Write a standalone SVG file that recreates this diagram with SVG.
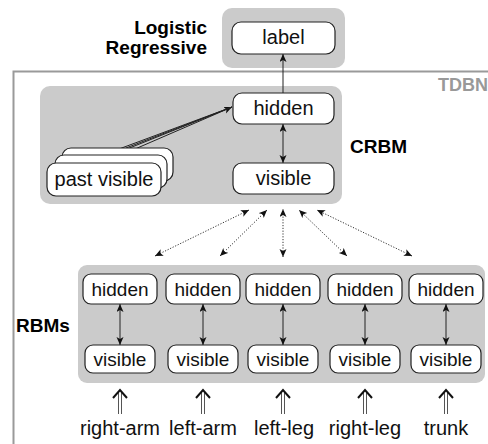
<svg xmlns="http://www.w3.org/2000/svg" width="488" height="444" viewBox="0 0 488 444">
  <defs>
    <marker id="head" markerUnits="userSpaceOnUse" markerWidth="10" markerHeight="8" refX="8" refY="3.5" orient="auto-start-reverse">
      <path d="M0,0 L8,3.5 L0,7 L2,3.5 z" fill="#111"/>
    </marker>
    <style>
      .panel { fill: #cbcbcb; }
      .node { fill: #fff; stroke: #222; stroke-width: 1.2; }
      .t { font-family: "Liberation Sans", Arial, sans-serif; font-size: 19px; fill: #111; text-anchor: middle; }
      .big { font-size: 20px; }
      .lbl { font-family: "Liberation Sans", Arial, sans-serif; font-weight: bold; font-size: 19px; fill: #000; }
      .frame { fill: none; stroke: #9a9a9a; stroke-width: 2; }
      .edge { stroke: #222; stroke-width: 1; fill: none; }
      .dot { stroke: #333; stroke-width: 1; fill: none; stroke-dasharray: 1.2 1.6; }
      .shaft { stroke: #555; stroke-width: 1; fill: none; }
      .chev { stroke: #111; stroke-width: 2; fill: none; stroke-linejoin: miter; }
    </style>
  </defs>

  <!-- TDBN frame -->
  <rect class="frame" x="13.5" y="71.5" width="520" height="420"/>
  <text class="lbl" x="488" y="91" text-anchor="end" style="fill:#999;font-size:18px">TDBN</text>

  <!-- panels -->
  <rect class="panel" x="222" y="8" width="123" height="60" rx="10"/>
  <rect class="panel" x="40" y="86" width="302" height="118" rx="10"/>
  <rect class="panel" x="78" y="265" width="407" height="118" rx="9"/>

  <!-- layer labels -->
  <text class="lbl" x="207" y="34" text-anchor="end">Logistic</text>
  <text class="lbl" x="207" y="54" text-anchor="end">Regressive</text>
  <text class="lbl" x="350" y="153">CRBM</text>
  <text class="lbl" x="16" y="332">RBMs</text>

  <!-- connectors -->
  <g id="connectors">
    <line class="edge" x1="283" y1="93" x2="283" y2="54" marker-end="url(#head)"/>
    <line class="edge" x1="283" y1="124" x2="283" y2="163" marker-start="url(#head)" marker-end="url(#head)"/>
    <line class="edge" x1="105" y1="162" x2="232" y2="107" marker-end="url(#head)"/>
    <line class="edge" x1="112" y1="155" x2="232" y2="107"/>
    <line class="edge" x1="119" y1="149" x2="232" y2="107"/>
    <line class="edge" x1="126" y1="148" x2="232" y2="107"/>

    <line class="dot" x1="155" y1="256" x2="249" y2="210" marker-start="url(#head)" marker-end="url(#head)"/>
    <line class="dot" x1="220" y1="256" x2="267" y2="210" marker-start="url(#head)" marker-end="url(#head)"/>
    <line class="dot" x1="283" y1="257" x2="283" y2="209" marker-start="url(#head)" marker-end="url(#head)"/>
    <line class="dot" x1="347" y1="256" x2="299" y2="210" marker-start="url(#head)" marker-end="url(#head)"/>
    <line class="dot" x1="412" y1="256" x2="317" y2="210" marker-start="url(#head)" marker-end="url(#head)"/>

    <line class="edge" x1="120" y1="304" x2="120" y2="345" marker-start="url(#head)" marker-end="url(#head)"/>
    <line class="edge" x1="203" y1="304" x2="203" y2="345" marker-start="url(#head)" marker-end="url(#head)"/>
    <line class="edge" x1="283" y1="304" x2="283" y2="345" marker-start="url(#head)" marker-end="url(#head)"/>
    <line class="edge" x1="365" y1="304" x2="365" y2="345" marker-start="url(#head)" marker-end="url(#head)"/>
    <line class="edge" x1="446" y1="304" x2="446" y2="345" marker-start="url(#head)" marker-end="url(#head)"/>

    <!-- input double arrows -->
    <path class="shaft" d="M118.5,392 V414 M121.5,392 V414"/>
    <path class="chev" d="M113,398 L120,390 L127,398"/>
    <path class="shaft" d="M201.5,392 V414 M204.5,392 V414"/>
    <path class="chev" d="M196,398 L203,390 L210,398"/>
    <path class="shaft" d="M281.5,392 V414 M284.5,392 V414"/>
    <path class="chev" d="M276,398 L283,390 L290,398"/>
    <path class="shaft" d="M363.5,392 V414 M366.5,392 V414"/>
    <path class="chev" d="M358,398 L365,390 L372,398"/>
    <path class="shaft" d="M444.5,392 V414 M447.5,392 V414"/>
    <path class="chev" d="M439,398 L446,390 L453,398"/>
  </g>

  <!-- logistic regression output -->
  <g id="label">
    <rect class="node" x="232" y="22" width="103" height="32" rx="9"/>
    <text class="t big" x="283.5" y="44">label</text>
  </g>

  <!-- CRBM -->
  <g id="crbm-hidden">
    <rect class="node" x="233" y="93" width="101" height="31" rx="9"/>
    <text class="t big" x="283.5" y="115">hidden</text>
  </g>
  <g id="crbm-visible">
    <rect class="node" x="233" y="163" width="101" height="31" rx="9"/>
    <text class="t big" x="283.5" y="185">visible</text>
  </g>
  <g id="past-visible">
    <rect class="node" x="62" y="148" width="111" height="33" rx="9"/>
    <rect class="node" x="55" y="155" width="112" height="33" rx="9"/>
    <rect class="node" x="47" y="163" width="114" height="33" rx="9"/>
    <text class="t big" x="104" y="186">past visible</text>
  </g>

  <!-- per-limb RBMs -->
  <g id="rbm-right-arm">
    <rect class="node" x="83" y="274" width="74" height="30" rx="8"/>
    <text class="t" x="120" y="296">hidden</text>
    <rect class="node" x="85" y="345" width="70" height="28" rx="8"/>
    <text class="t" x="120" y="366">visible</text>
  </g>
  <g id="rbm-left-arm">
    <rect class="node" x="166" y="274" width="74" height="30" rx="8"/>
    <text class="t" x="203" y="296">hidden</text>
    <rect class="node" x="168" y="345" width="70" height="28" rx="8"/>
    <text class="t" x="203" y="366">visible</text>
  </g>
  <g id="rbm-left-leg">
    <rect class="node" x="246" y="274" width="74" height="30" rx="8"/>
    <text class="t" x="283" y="296">hidden</text>
    <rect class="node" x="248" y="345" width="70" height="28" rx="8"/>
    <text class="t" x="283" y="366">visible</text>
  </g>
  <g id="rbm-right-leg">
    <rect class="node" x="328" y="274" width="74" height="30" rx="8"/>
    <text class="t" x="365" y="296">hidden</text>
    <rect class="node" x="330" y="345" width="70" height="28" rx="8"/>
    <text class="t" x="365" y="366">visible</text>
  </g>
  <g id="rbm-trunk">
    <rect class="node" x="409" y="274" width="74" height="30" rx="8"/>
    <text class="t" x="446" y="296">hidden</text>
    <rect class="node" x="411" y="345" width="70" height="28" rx="8"/>
    <text class="t" x="446" y="366">visible</text>
  </g>

  <!-- body-part inputs -->
  <text class="t big" x="120" y="435">right-arm</text>
  <text class="t big" x="203" y="435">left-arm</text>
  <text class="t big" x="284" y="435">left-leg</text>
  <text class="t big" x="365" y="435">right-leg</text>
  <text class="t big" x="446" y="435">trunk</text>
</svg>
